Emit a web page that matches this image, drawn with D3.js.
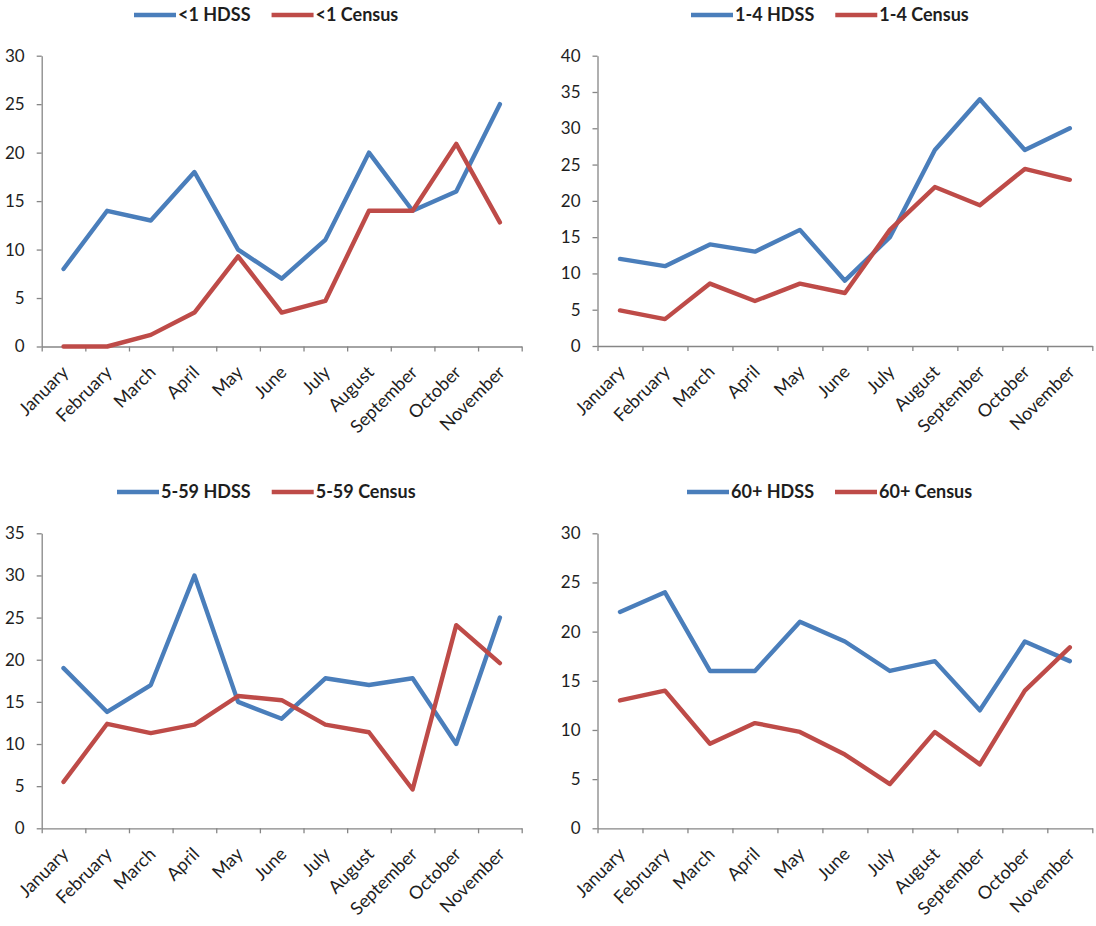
<!DOCTYPE html>
<html>
<head>
<meta charset="utf-8">
<script src="https://cdn.jsdelivr.net/npm/d3@7"></script>
<style>
  html, body { margin: 0; padding: 0; background: #fff; }
  svg { display: block; }
</style>
</head>
<body>
<svg id="chart" width="1096" height="926"></svg>
<script>
// Monthly counts by age group: HDSS vs Census
const months = ["January", "February", "March", "April", "May", "June",
                "July", "August", "September", "October", "November"];

const under1HDSS    = [8, 14, 13, 18, 10, 7, 11, 20, 14, 16, 25];
const under1Census  = [0, 0, 1.2, 3.5, 9.3, 3.5, 4.7, 14, 14, 20.9, 12.8];

const age1to4HDSS   = [12, 11, 14, 13, 16, 9, 15, 27, 34, 27, 30];
const age1to4Census = [4.9, 3.7, 8.6, 6.2, 8.6, 7.3, 16, 21.9, 19.4, 24.4, 22.9];

const age5to59HDSS   = [19, 13.8, 17, 30, 15, 13, 17.8, 17, 17.8, 10, 25];
const age5to59Census = [5.5, 12.4, 11.3, 12.3, 15.7, 15.2, 12.3, 11.4, 4.6, 24.1, 19.6];

const age60HDSS   = [22, 24, 16, 16, 21, 19, 16, 17, 12, 19, 17];
const age60Census = [13, 14, 8.6, 10.7, 9.8, 7.5, 4.5, 9.8, 6.5, 14, 18.4];

const ticks30 = [0, 5, 10, 15, 20, 25, 30];
const ticks35 = [0, 5, 10, 15, 20, 25, 30, 35];
const ticks40 = [0, 5, 10, 15, 20, 25, 30, 35, 40];

const seriesNames = [
  ["<1 HDSS", "<1 Census"],
  ["1-4 HDSS", "1-4 Census"],
  ["5-59 HDSS", "5-59 Census"],
  ["60+ HDSS", "60+ Census"]
];

const BLUE = "#4a7ebb";
const RED = "#be4b48";
const AXIS = "#868686";
const TEXT = "#1e1e1e";
const FONT = "Lato, 'Open Sans', sans-serif";

const svg = d3.select("#chart");

const panels = [
  { hdss: under1HDSS,   census: under1Census,   ticks: ticks30, names: seriesNames[0],
    left: 41.7,  right: 521.7,  top: 55.7,  bottom: 346.5, legendX: 134, legendY: 15 },
  { hdss: age1to4HDSS,  census: age1to4Census,  ticks: ticks40, names: seriesNames[1],
    left: 597.5, right: 1092.3, top: 55.7,  bottom: 346.0, legendX: 691, legendY: 15 },
  { hdss: age5to59HDSS, census: age5to59Census, ticks: ticks35, names: seriesNames[2],
    left: 41.7,  right: 521.7,  top: 533.3, bottom: 828.3, legendX: 117, legendY: 492 },
  { hdss: age60HDSS,    census: age60Census,    ticks: ticks30, names: seriesNames[3],
    left: 597.5, right: 1092.3, top: 533.3, bottom: 828.3, legendX: 687, legendY: 492 }
];

panels.forEach(p => {
  const g = svg.append("g");

  const x = d3.scaleBand().domain(months).range([p.left, p.right]).padding(0);
  const xEdges = d3.scaleLinear().domain([0, months.length]).range([p.left, p.right]);
  const y = d3.scaleLinear().domain([0, d3.max(p.ticks)]).range([p.bottom, p.top]);

  // y axis
  const yAxis = g.append("g")
    .attr("transform", `translate(${p.left},0)`)
    .call(d3.axisLeft(y).tickValues(p.ticks).tickSize(5).tickSizeOuter(0).tickPadding(12));
  yAxis.select(".domain").attr("stroke", AXIS).attr("stroke-width", 1.3);
  yAxis.selectAll(".tick line").attr("stroke", AXIS).attr("stroke-width", 1.3);
  yAxis.selectAll(".tick text")
    .attr("fill", TEXT)
    .style("font-family", FONT)
    .style("font-size", "17px");

  // x axis: tick marks on category boundaries
  const xAxis = g.append("g")
    .attr("transform", `translate(0,${p.bottom})`)
    .call(d3.axisBottom(xEdges).tickValues(d3.range(months.length + 1))
      .tickSize(5).tickSizeOuter(0).tickFormat(""));
  xAxis.select(".domain").attr("stroke", AXIS).attr("stroke-width", 1.3);
  xAxis.selectAll(".tick line").attr("stroke", AXIS).attr("stroke-width", 1.3);

  // category labels, rotated
  g.append("g").selectAll("text")
    .data(months)
    .join("text")
    .attr("transform", d => `translate(${x(d) + x.bandwidth() / 2 + 6},${p.bottom + 27}) rotate(-45)`)
    .attr("text-anchor", "end")
    .attr("fill", TEXT)
    .style("font-family", FONT)
    .style("font-size", "18px")
    .text(d => d);

  const line = d3.line()
    .x((d, i) => x(months[i]) + x.bandwidth() / 2)
    .y(d => y(d));

  [[p.hdss, BLUE], [p.census, RED]].forEach(([vals, color]) => {
    g.append("path")
      .datum(vals)
      .attr("d", line)
      .attr("fill", "none")
      .attr("stroke", color)
      .attr("stroke-width", 4.4)
      .attr("stroke-linejoin", "round")
      .attr("stroke-linecap", "round");
  });

  // legend
  const leg = g.append("g").attr("transform", `translate(${p.legendX},${p.legendY})`);
  let cx = 0;
  [[p.names[0], BLUE], [p.names[1], RED]].forEach(([name, color]) => {
    leg.append("line")
      .attr("x1", cx).attr("x2", cx + 42)
      .attr("y1", 0).attr("y2", 0)
      .attr("stroke", color).attr("stroke-width", 4.4);
    const t = leg.append("text")
      .attr("x", cx + 44).attr("y", 0).attr("dy", "0.36em")
      .attr("fill", TEXT)
      .style("font-family", FONT)
      .style("font-size", "18px")
      .style("font-weight", "bold")
      .text(name);
    cx += 44 + t.node().getComputedTextLength() + 21;
  });
});
</script>
</body>
</html>
